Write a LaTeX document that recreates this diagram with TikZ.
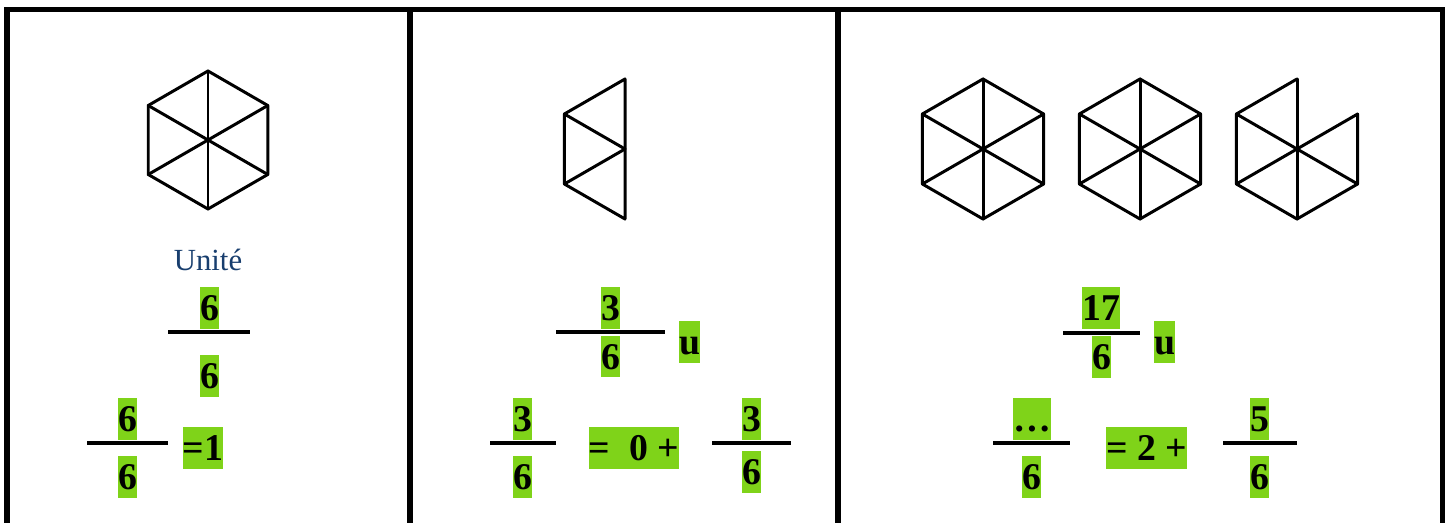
\documentclass[tikz,border=0pt]{standalone}
\usepackage{fontspec}
\setmainfont{Liberation Serif}
\usepackage{xcolor}
\usepackage{tikz}
\usetikzlibrary{
    positioning,
    calc
}
\definecolor{hlgreen}{RGB}{127,211,25}
\definecolor{unitblue}{RGB}{24,62,110}
\tikzset{
  frame/.style = {
      line width=3.1pt,
      line join=miter
  },
  hexline/.style = {
      line width=1.7pt,
      line join=round,
      line cap=round
  },
  bar/.style = {
      line width=2.8pt
  },
  hl/.style = {
      fill=hlgreen,
      inner sep=0pt,
      font=\bfseries\fontsize{21.5}{24}\selectfont,
      text height=0.52cm,
      text depth=0pt,
      minimum height=0.84cm,
      minimum width=0.38cm
  },
  wide/.style = {
      hl,
      minimum width=#1
  },
  unit label/.style = {
      text=unitblue,
      font=\fontsize{17.5}{20}\selectfont,
      inner sep=0pt
  }
}

\begin{document}
\begin{tikzpicture}[x=0.02cm, y=-0.02cm]
        \useasboundingbox (0,0) rectangle (1454,523);
        % Frame
        \draw[frame] (7,523) -- (7,9.5) -- (1442.5,9.5) -- (1442.5,523);
        \draw[frame] (410,9.5) -- (410,523);
        \draw[frame] (838,9.5) -- (838,523);
        % Hexagons
        \foreach \cx/\cy/\r in {208/140/69, 983/149/70, 1140/149/70}{
            \draw[hexline] (\cx,\cy) +(30:\r) -- +(90:\r) -- +(150:\r)
                -- +(210:\r) -- +(270:\r) -- +(330:\r) -- cycle;
            \foreach \a in {30,90,...,330}
                \draw[hexline] (\cx,\cy) -- ++(\a:\r);
        }
        % Half unit
        \coordinate (hc) at (625,149);
        \draw[hexline] ($(hc)+(270:70)$) -- ($(hc)+(210:70)$) -- ($(hc)+(150:70)$)
            -- ($(hc)+(90:70)$) -- cycle;
        \draw[hexline] ($(hc)+(210:70)$) -- (hc) -- ($(hc)+(150:70)$);
        % Five sixths
        \coordinate (fc) at (1297,149);
        \draw[hexline] ($(fc)+(330:70)$) -- ($(fc)+(30:70)$) -- ($(fc)+(90:70)$)
            -- ($(fc)+(150:70)$) -- ($(fc)+(210:70)$) -- ($(fc)+(270:70)$);
        \foreach \a in {30,90,...,330}
            \draw[hexline] (fc) -- ++(\a:70);
        % Label
        \node[unit label, anchor=base] (unite) at (208,271) {Unité};
        % Fractions, first column
        \node[hl] (n1a) at (209.5,308) {6};
        \node[hl] (d1a) at (209.5,376) {6};
        \draw[bar] (168,332) -- (250,332);
        \node[hl] (n1b) at (127.5,419) {6};
        \node[hl] (d1b) at (127.5,477) {6};
        \draw[bar] (87,443) -- (168,443);
        \node[wide=0.8cm] (eq1) at (203,448) {=1};
        % Fractions, second column
        \node[hl] (n2a) at (610.5,308) {3};
        \node[hl] (d2a) at (610.5,356.5) {6};
        \draw[bar] (556,332) -- (665,332);
        \node[wide=0.42cm] (u2) at (689.5,342) {u};
        \node[hl] (n2b) at (522.5,419) {3};
        \node[hl] (d2b) at (522.5,477) {6};
        \draw[bar] (490,443) -- (556,443);
        \node[wide=1.8cm] (eq2) at (634,448) {=\enspace 0 +};
        \node[hl] (n2c) at (751.5,419) {3};
        \node[hl] (d2c) at (751.5,472) {6};
        \draw[bar] (712,443) -- (791,443);
        % Fractions, third column
        \node[wide=0.76cm] (n3a) at (1101,308) {17};
        \node[hl] (d3a) at (1101.5,357) {6};
        \draw[bar] (1063,333) -- (1140,333);
        \node[wide=0.42cm] (u3) at (1164.5,342) {u};
        \node[wide=0.76cm] (n3b) at (1032,419) {…};
        \node[hl] (d3b) at (1031.5,477) {6};
        \draw[bar] (993,443) -- (1070,443);
        \node[wide=1.62cm] (eq3) at (1146.5,448) {= 2 +};
        \node[hl] (n3c) at (1259.5,419) {5};
        \node[hl] (d3c) at (1259.5,477) {6};
        \draw[bar] (1223,443) -- (1297,443);
    \end{tikzpicture}
\end{document}
